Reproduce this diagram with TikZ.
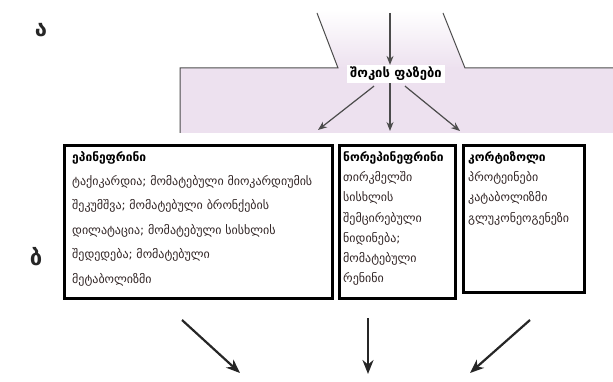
\documentclass[tikz,border=0pt]{standalone}
\usepackage{fontspec}
\setmainfont{DejaVu Sans}
\usetikzlibrary{arrows.meta}
\definecolor{shockpink}{RGB}{237,225,239}
\definecolor{edgegray}{RGB}{75,75,75}
\definecolor{bodytext}{RGB}{50,38,38}
\begin{document}
\begin{tikzpicture}[x=1pt,y=-1pt,
  frame/.style={draw=black, line width=3pt, fill=white, anchor=north west, inner sep=0pt},
  bodyA/.style={anchor=north west, align=left, inner sep=0pt, text=bodytext,
    font=\fontsize{12}{24.4}\selectfont},
  bodyB/.style={anchor=north west, align=left, inner sep=0pt, text=bodytext,
    font=\fontsize{12}{20.3}\selectfont},
  thinarrow/.style={draw=edgegray, line width=1.2pt, -{Stealth[length=9pt,width=7pt]}},
  thickarrow/.style={draw=black!85, line width=2.2pt, -{Stealth[length=14pt,width=11pt]}},
  outline/.style={draw=edgegray, line width=1pt},
  partlabel/.style={font=\fontsize{22}{24}\selectfont\bfseries, text=black!85}
]
\useasboundingbox (0,0) rectangle (613,382);

% pink band with the funnel on top
\shade[top color=white, bottom color=shockpink] (317,10) -- (443,10) -- (465,68) -- (338,68) -- cycle;
\fill[shockpink] (180,68) rectangle (613,133);
\fill[shockpink] (338,67) -- (465,67) -- (465,69) -- (338,69) -- cycle;
\draw[outline] (317,13) -- (338,68) -- (180,68) -- (180,133);
\draw[outline] (443,13) -- (465,68) -- (613,68);

% part labels
\node[partlabel] (la) at (41,30) {ა};
\node[partlabel] (lb) at (36,257) {ბ};

% central label
\node[fill=white, inner xsep=3pt, inner ysep=2pt, font=\fontsize{13}{14}\selectfont\bfseries] (phase) at (396,74) {შოკის ფაზები};

\coordinate (intop) at (390,13);
\coordinate (outL) at (318,130);
\coordinate (outM) at (390,131);
\coordinate (outR) at (460,131);
\draw[thinarrow] (intop) -- (intop |- phase.north);
\draw[thinarrow] (phase.south west) ++(27,3) coordinate (srcL) -- (outL);
\draw[thinarrow] (intop |- phase.south) -- (outM);
\draw[thinarrow] (phase.south east) ++(-40,3) coordinate (srcR) -- (outR);

% hormone boxes
\node[frame, minimum width=268, minimum height=153] (epi) at (63,144) {};
\node[frame, minimum width=116, minimum height=153] (nor) at (338,144) {};
\node[frame, minimum width=121, minimum height=147] (cor) at (462,144) {};

\node[bodyA] (epitext) at (72,151) {\textbf{\color{black}ეპინეფრინი}\\
ტაქიკარდია; მომატებული მიოკარდიუმის\\
შეკუმშვა; მომატებული ბრონქების\\
დილატაცია; მომატებული სისხლის\\
შედედება; მომატებული\\
მეტაბოლიზმი};

\node[bodyB] (nortext) at (343,151) {\textbf{\color{black}ნორეპინეფრინი}\\
თირკმელში\\
სისხლის\\
შემცირებული\\
ნიდინება;\\
მომატებული\\
რენინი};

\node[bodyB] (cortext) at (468,151) {\textbf{\color{black}კორტიზოლი}\\
პროტეინები\\
კატაბოლიზმი\\
გლუკონეოგენეზი};

% outgoing arrows below the boxes
\coordinate (dL0) at (182,320);
\coordinate (dL1) at (240,373);
\coordinate (dM0) at (368,318);
\coordinate (dM1) at (368,374);
\coordinate (dR0) at (530,320);
\coordinate (dR1) at (470,373);
\draw[thickarrow] (dL0) -- (dL1);
\draw[thickarrow] (dM0) -- (dM1);
\draw[thickarrow] (dR0) -- (dR1);
\end{tikzpicture}
\end{document}
